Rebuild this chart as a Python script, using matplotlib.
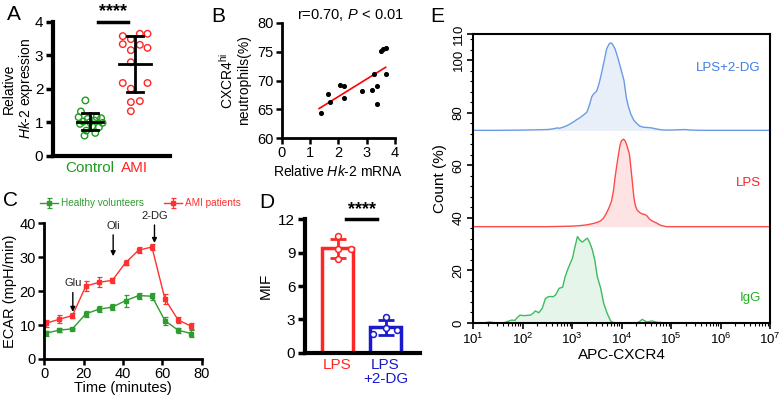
import matplotlib
matplotlib.use('Agg')
import matplotlib.pyplot as plt
import numpy as np
from matplotlib.ticker import MultipleLocator, LogLocator, NullFormatter

plt.rcParams['font.family'] = ['Liberation Sans', 'DejaVu Sans']
plt.rcParams['mathtext.fontset'] = 'custom'
plt.rcParams['mathtext.rm'] = 'Liberation Sans'
plt.rcParams['mathtext.it'] = 'Liberation Sans:italic'
plt.rcParams['mathtext.bf'] = 'Liberation Sans:bold'

# ---------------- data ----------------
# Panel A
a_groups = ['Control', 'AMI']
a_control = [1.65, 1.32, 1.15, 1.15, 1.12, 1.10, 1.05, 1.02, 1.00, 0.98, 0.95, 0.88, 0.85, 0.75, 0.68, 0.60]
a_control_jit = [-0.10, -0.20, -0.25, 0.15, 0.25, -0.05, 0.10, -0.15, 0.00, 0.28, -0.22, 0.05, 0.20, -0.08, 0.12, -0.12]
a_ami = [3.57, 3.48, 3.64, 3.64, 3.33, 3.31, 3.15, 3.22, 2.79, 2.17, 2.17, 2.00, 1.60, 1.63, 1.33]
a_ami_jit = [-0.27, -0.09, 0.11, 0.28, -0.27, 0.11, -0.09, 0.28, -0.09, -0.27, 0.28, -0.09, -0.09, 0.11, -0.09]

# Panel B
b_hk2 = [1.40, 1.64, 1.69, 2.07, 2.20, 2.20, 2.83, 3.19, 3.25, 3.35, 3.35, 3.50, 3.58, 3.67, 3.67]
b_cxcr4 = [64.3, 67.7, 66.2, 69.2, 69.0, 66.9, 68.2, 68.4, 71.1, 69.1, 65.9, 75.2, 75.4, 75.6, 71.2]

# Panel C
c_time = [0.7, 7.5, 14.3, 21.1, 27.8, 34.6, 41.3, 48.0, 54.7, 61.3, 68.0, 74.6]
c_healthy = [7.6, 8.5, 8.9, 13.3, 14.7, 15.3, 17.2, 18.7, 18.5, 11.3, 8.5, 7.5]
c_healthy_err = [0.8, 0.6, 0.3, 0.8, 0.8, 0.8, 1.8, 0.9, 1.0, 1.2, 0.7, 1.0]
c_ami = [10.5, 11.7, 12.8, 21.5, 22.6, 23.2, 28.4, 32.1, 33.0, 17.7, 11.5, 9.7]
c_ami_err = [1.0, 1.2, 0.7, 1.5, 1.5, 0.7, 0.8, 1.0, 0.8, 1.5, 0.9, 0.9]

# Panel D
d_groups = ['LPS', 'LPS\n+2-DG']
d_lps = [10.5, 9.3, 9.3, 8.4]
d_lps_jit = [0.0, 0.27, 0.0, 0.0]
d_2dg = [3.2, 1.7, 2.0, 2.2]
d_2dg_jit = [0.0, -0.26, 0.25, 0.0]

# Panel E (log10 fluorescence, count % relative to each baseline)
e_igg_logx = [1.0, 1.2, 1.34, 1.45, 1.62, 1.70, 1.78, 1.85, 1.88, 1.95, 2.02, 2.16, 2.22, 2.26, 2.33, 2.40,
              2.46, 2.52, 2.57, 2.62, 2.67, 2.74, 2.81, 2.86, 2.91, 2.96, 3.01, 3.06, 3.11, 3.16, 3.21, 3.26,
              3.31, 3.36, 3.41, 3.46, 3.51, 3.58, 3.64, 3.71, 3.78, 3.85, 4.30, 4.36, 4.42, 4.47, 4.52, 4.57,
              4.62, 4.70, 4.79, 4.90, 7.0]
e_igg_cnt = [0, 0, 0.4, 0, 0, 0.6, 1.1, 1.0, 1.8, 3.0, 2.8, 3.0, 3.8, 4.6, 3.9, 5.6,
             9.2, 10.0, 10.1, 10.0, 10.7, 13.2, 13.6, 17.5, 20.2, 22.5, 24.7, 29.0, 32.9, 31.5, 30.8, 31.6,
             32.3, 30.5, 27.9, 24.0, 17.7, 13.2, 7.5, 3.7, 0.8, 0, 0, 0.5, 1.4, 0.8, 0.4, 0.6,
             0.8, 0.3, 0.2, 0, 0]
e_lps_logx = [1.0, 2.5, 2.76, 3.0, 3.16, 3.30, 3.43, 3.50, 3.57, 3.64, 3.70, 3.75, 3.80, 3.84, 3.87, 3.91,
              3.94, 3.97, 4.00, 4.04, 4.07, 4.10, 4.13, 4.16, 4.21, 4.25, 4.28, 4.32, 4.38, 4.44, 4.48, 4.52,
              4.56, 4.61, 4.66, 4.71, 4.76, 4.81, 4.91, 7.0]
e_lps_cnt = [0, 0, 0.1, 0.2, 0.4, 0.7, 1.2, 1.6, 2.1, 3.3, 5.3, 7.3, 9.8, 14.0, 18.7, 24.0,
             27.6, 31.0, 32.7, 33.3, 32.8, 31.4, 29.5, 27.6, 18.7, 11.1, 8.0, 6.2, 5.2, 4.7, 4.6, 4.0,
             3.0, 2.3, 1.8, 1.4, 0.8, 0.4, 0, 0]
e_2dg_logx = [1.0, 1.5, 2.0, 2.3, 2.5, 2.6, 2.7, 2.75, 2.82, 2.90, 2.96, 3.03, 3.09, 3.16, 3.23, 3.30,
              3.35, 3.40, 3.43, 3.50, 3.55, 3.60, 3.65, 3.70, 3.75, 3.78, 3.81, 3.87, 3.92, 3.96, 4.00, 4.05,
              4.10, 4.14, 4.19, 4.25, 4.31, 4.37, 4.44, 4.50, 4.58, 4.64, 4.71, 4.80, 4.90, 5.0, 5.28, 5.4,
              5.6, 7.0]
e_2dg_cnt = [0, 0, 0.1, 0.2, 0.3, 0.5, 0.9, 0.8, 1.2, 1.8, 2.4, 3.2, 4.0, 4.8, 5.8, 6.9,
             9.5, 12.8, 13.7, 15.0, 18.0, 22.0, 26.5, 31.0, 32.9, 33.3, 33.0, 31.0, 28.0, 25.3, 22.5, 19.0,
             12.2, 9.0, 6.1, 3.8, 2.6, 1.6, 1.2, 1.1, 1.0, 0.8, 0.5, 0.2, 0.1, 0.1, 0.3, 0.1,
             0, 0]
e_labels = ['IgG', 'LPS', 'LPS+2-DG']

# ---------------- style ----------------
GREEN = '#1f9a1f'
RED = '#ff2626'
BLUE = '#1a1acc'

fig = plt.figure(figsize=(7.81, 3.95), dpi=100)

def panel_label(x, y, s):
    fig.text(x / 781, 1 - y / 395, s, fontsize=15, ha='center', va='center')

# ---------------- Panel A ----------------
axA = fig.add_axes([53 / 781, 1 - 155.7 / 395, 117 / 781, 134 / 395])
for i, (vals, jit, col, half) in enumerate([(a_control, a_control_jit, GREEN, 0.29),
                                            (a_ami, a_ami_jit, RED, 0.35)]):
    v = np.array(vals)
    axA.scatter(i + np.array(jit), v, s=22, facecolors='none', edgecolors=col, linewidths=1.0,
                zorder=2, clip_on=False)
    m, sd = v.mean(), v.std(ddof=1)
    axA.plot([i - half, i + half], [m, m], color='black', lw=2, zorder=3)
    axA.plot([i, i], [m - sd, m + sd], color='black', lw=2, zorder=3)
    for yy in (m - sd, m + sd):
        axA.plot([i - 0.17, i + 0.17], [yy, yy], color='black', lw=2, zorder=3)
axA.set_xlim(-0.82, 1.78)
axA.set_ylim(0, 4)
axA.set_yticks([0, 1, 2, 3, 4])
axA.set_xticks([0, 1])
axA.set_xticklabels(a_groups, fontsize=11)
for lab, col in zip(axA.get_xticklabels(), [GREEN, RED]):
    lab.set_color(col)
axA.tick_params(axis='x', length=0, pad=4)
axA.tick_params(axis='y', length=5, width=2.5, labelsize=11, pad=2)
for s in ['top', 'right']:
    axA.spines[s].set_visible(False)
for s in ['left', 'bottom']:
    axA.spines[s].set_linewidth(3)
axA.set_ylabel('Relative\n$\\it{Hk}$-$\\it{2}$ expression', fontsize=10, linespacing=1.05)
axA.yaxis.set_label_coords(-0.155, 0.5)
axA.plot([0.18, 0.85], [4.0, 4.0], color='black', lw=2.5, clip_on=False)
axA.text(0.52, 4.3, '****', ha='center', va='center', fontsize=13, fontweight='bold')
panel_label(14, 14, 'A')

# ---------------- Panel B ----------------
axB = fig.add_axes([281.7 / 781, 1 - 138 / 395, 113.3 / 781, 115 / 395])
axB.scatter(b_hk2, b_cxcr4, s=7, color='black', zorder=3)
coef = np.polyfit(b_hk2, b_cxcr4, 1)
xs = np.array([min(b_hk2) - 0.08, max(b_hk2)])
axB.plot(xs, np.polyval(coef, xs), color='red', lw=1.2, zorder=2)
axB.set_xlim(0, 4)
axB.set_ylim(60, 80)
axB.set_xticks([0, 1, 2, 3, 4])
axB.set_yticks([60, 65, 70, 75, 80])
axB.tick_params(length=4, width=1.8, labelsize=10.5, pad=2)
for s in ['top', 'right']:
    axB.spines[s].set_visible(False)
for s in ['left', 'bottom']:
    axB.spines[s].set_linewidth(2)
axB.set_xlabel('Relative $\\it{Hk}$-$\\it{2}$ mRNA', fontsize=10, labelpad=3)
axB.set_ylabel('CXCR4$^{\\mathrm{hi}}$\nneutrophils(%)', fontsize=10, labelpad=4, linespacing=1.15)
axB.text(0.54, 81.4, 'r=0.70, $\\it{P}$$\\,<\\,$0.01', fontsize=10.5, ha='left', va='center')
panel_label(218, 17, 'B')

# ---------------- Panel C ----------------
axC = fig.add_axes([44.3 / 781, 1 - 359 / 395, 157.4 / 781, 135.7 / 395])
CG = '#2e9c2e'
CR = '#ff3030'
axC.errorbar(c_time, c_healthy, yerr=c_healthy_err, color=CG, marker='s', ms=2.5, lw=1,
             elinewidth=0.9, capsize=1.8, capthick=0.9, label='Healthy volunteers', clip_on=False)
axC.errorbar(c_time, c_ami, yerr=c_ami_err, color=CR, marker='s', ms=2.5, lw=1,
             elinewidth=0.9, capsize=1.8, capthick=0.9, label='AMI patients', clip_on=False)
axC.set_xlim(0, 80)
axC.set_ylim(0, 40)
axC.set_xticks([0, 20, 40, 60, 80])
axC.set_yticks([0, 10, 20, 30, 40])
axC.tick_params(length=4, width=1.8, labelsize=10.5, pad=2)
for s in ['top', 'right']:
    axC.spines[s].set_visible(False)
for s in ['left', 'bottom']:
    axC.spines[s].set_linewidth(2)
axC.set_xlabel('Time (minutes)', fontsize=10.5, labelpad=-0.5)
axC.set_ylabel('ECAR (mpH/min)', fontsize=10.5, labelpad=2)
arrow = dict(arrowstyle='-|>', lw=1, color='black', mutation_scale=7, shrinkA=1, shrinkB=0)
for lab, xx, ytxt, ytip in [('Glu', 14.5, 22.3, 13.9), ('Oli', 35.0, 39.3, 30.3), ('2-DG', 56.0, 42.2, 34.2)]:
    axC.annotate(lab, xy=(xx, ytip), xytext=(xx, ytxt), ha='center', va='center', fontsize=8,
                 arrowprops=arrow, annotation_clip=False, color='#222222')
leg = axC.legend(loc='center left', bbox_to_anchor=(40 / 781, 1 - 203.5 / 395),
                 bbox_transform=fig.transFigure, ncol=2, frameon=False, fontsize=7.2,
                 handlelength=1.8, handletextpad=0.3, columnspacing=2.0, borderaxespad=0,
                 borderpad=0, labelcolor='linecolor')
panel_label(11, 200, 'C')

# ---------------- Panel D ----------------
axD = fig.add_axes([305 / 781, 1 - 352.7 / 395, 115 / 781, 133.4 / 395])
for i, (vals, jit, col) in enumerate([(d_lps, d_lps_jit, RED), (d_2dg, d_2dg_jit, BLUE)]):
    v = np.array(vals)
    m, sd = v.mean(), v.std(ddof=1)
    axD.bar(i, m, width=0.65, facecolor='white', edgecolor=col, linewidth=2.5, zorder=1)
    axD.errorbar(i, m, yerr=sd, color=col, capsize=6, elinewidth=2, capthick=2, zorder=2)
    axD.scatter(i + np.array(jit), v, s=18, facecolors='white', edgecolors=col, linewidths=1.1, zorder=3)
axD.set_xlim(-0.68, 1.72)
axD.set_ylim(0, 12)
axD.set_yticks([0, 3, 6, 9, 12])
axD.set_xticks([0, 1])
axD.set_xticklabels(d_groups, fontsize=11, linespacing=1.0)
for lab, col in zip(axD.get_xticklabels(), [RED, BLUE]):
    lab.set_color(col)
axD.tick_params(axis='x', length=0, pad=4)
axD.tick_params(axis='y', length=5, width=2.5, labelsize=11, pad=2)
for s in ['top', 'right']:
    axD.spines[s].set_visible(False)
for s in ['left', 'bottom']:
    axD.spines[s].set_linewidth(3)
axD.set_ylabel('MIF', fontsize=11, labelpad=4)
axD.plot([0.17, 0.83], [12.0, 12.0], color='black', lw=2.5, clip_on=False)
axD.text(0.5, 12.85, '****', ha='center', va='center', fontsize=13, fontweight='bold')
panel_label(267, 203, 'D')

# ---------------- Panel E ----------------
axE = fig.add_axes([473 / 781, 1 - 323 / 395, 297 / 781, 289 / 395])
offsets = [0, 110 / 3, 220 / 3]
line_cols = ['#3dbb5e', '#ff4a4a', '#6a9be6']
fill_cols = ['#e6f5ea', '#fde3e3', '#e9eff9']
text_cols = ['#22b022', '#ff2020', '#3f7fe0']
series = [(e_igg_logx, e_igg_cnt), (e_lps_logx, e_lps_cnt), (e_2dg_logx, e_2dg_cnt)]
label_y = [9.5, 53.4, 96.9]
for (lx, cnt), off, lc, fc, tc, lab, ly in zip(series, offsets, line_cols, fill_cols, text_cols, e_labels, label_y):
    xv = 10 ** np.array(lx)
    yv = np.array(cnt) + off
    axE.fill_between(xv, off, yv, color=fc, lw=0, zorder=1)
    axE.plot(xv, yv, color=lc, lw=1.0, zorder=2)
    axE.text(6.5e6, ly, lab, color=tc, fontsize=9.5, ha='right', va='center')
axE.set_xscale('log')
axE.set_xlim(10, 1e7)
axE.set_ylim(0, 110)
axE.set_yticks([0, 20, 40, 60, 80, 100, 110])
axE.yaxis.set_minor_locator(MultipleLocator(4))
axE.xaxis.set_major_locator(LogLocator(base=10, numticks=10))
axE.xaxis.set_minor_locator(LogLocator(base=10, subs=np.arange(2, 10), numticks=20))
axE.xaxis.set_minor_formatter(NullFormatter())
axE.tick_params(which='major', length=4, width=1.2, labelsize=9.5, pad=2)
axE.tick_params(which='minor', length=2, width=0.8)
for lab in axE.get_yticklabels():
    lab.set_rotation(90)
    lab.set_va('center')
for s in axE.spines.values():
    s.set_linewidth(1.5)
axE.set_xlabel('APC-CXCR4', fontsize=11, labelpad=1)
axE.set_ylabel('Count (%)', fontsize=11, labelpad=4)
panel_label(437, 17, 'E')

fig.savefig('out.png', dpi=100)
